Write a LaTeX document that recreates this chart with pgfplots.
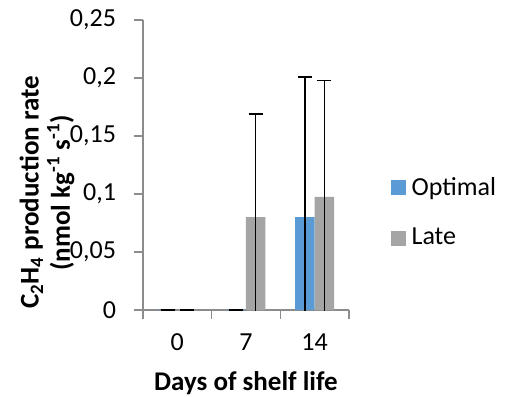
\documentclass[border=0pt]{standalone}
\usepackage{pgfplots}
\pgfplotsset{compat=1.18}
\usepackage{fontspec}
\setmainfont{Carlito}
\definecolor{cblue}{HTML}{5B9BD5}
\definecolor{cgray}{HTML}{A5A5A5}
\definecolor{axgray}{HTML}{8C8C8C}
\begin{document}
\begin{tikzpicture}
\useasboundingbox (-71.5pt,-43pt) rectangle (182.5pt,155pt);
\begin{axis}[
  at={(0,0)}, anchor=south west,
  scale only axis, width=103pt, height=145pt,
  ymin=0, ymax=0.25, ytick={0,0.05,0.1,0.15,0.2,0.25},
  scaled y ticks=false,
  yticklabel={\pgfmathprintnumber[fixed, precision=2, use comma, assume math mode=true]{\tick}},
  xmin=-0.5, xmax=2.5,
  xtick={-0.5,0.5,1.5,2.5}, x tick label as interval, xticklabels={0,7,14},
  axis x line*=bottom, axis y line*=left,
  axis line style={axgray, line width=0.6pt},
  tick style={axgray, line width=0.6pt},
  tick align=outside, major tick length=4.5pt,
  ticklabel style={font=\fontsize{13}{15}\selectfont, black},
  yticklabel style={xshift=-5.5pt},
  xticklabel style={yshift=-4pt},
  ybar, bar width=0.284,
  xlabel={\bfseries Days of shelf life},
  xlabel style={at={(axis description cs:0.5,-0.253)}, anchor=center, font=\fontsize{13.5}{15}\selectfont},
  ylabel={\begin{tabular}{c}C\textsubscript{2}H\textsubscript{4} production rate\\(nmol kg\textsuperscript{-1} s\textsuperscript{-1})\end{tabular}},
  ylabel style={at={(axis description cs:-0.458,0.405)}, anchor=center, font=\bfseries\fontsize{13.5}{14}\selectfont},
  legend image code/.code={\fill[#1] (0pt,-3.75pt) rectangle (7.5pt,3.75pt);},
  legend style={at={(1.2,0.336)}, anchor=west, draw=none, fill=none, inner sep=0pt,
    row sep=15pt, font=\fontsize{13}{15}\selectfont, nodes={inner xsep=3pt, inner ysep=0pt}},
  legend cell align=left,
]
\addplot[fill=cblue, draw=none, bar shift=-0.142,
  error bars/.cd, y dir=both, y explicit,
  error bar style={black, line width=0.7pt},
  error mark options={black, rotate=90, mark size=3.5pt, line width=0.7pt}]
  coordinates {(0,0.0003) +- (0,0.0002) (1,0.0003) +- (0,0.0002) (2,0.080) +- (0,0.121)};
\addplot[fill=cgray, draw=none, bar shift=0.142,
  error bars/.cd, y dir=both, y explicit,
  error bar style={black, line width=0.7pt},
  error mark options={black, rotate=90, mark size=3.5pt, line width=0.7pt}]
  coordinates {(0,0.0003) +- (0,0.0002) (1,0.080) +- (0,0.089) (2,0.0975) +- (0,0.1005)};
\legend{Optimal, Late}
\end{axis}
\end{tikzpicture}
\end{document}
